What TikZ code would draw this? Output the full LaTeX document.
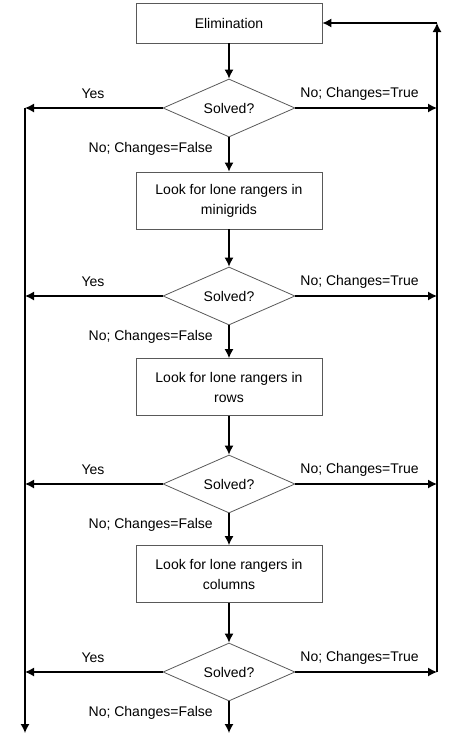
\documentclass[tikz,border=0pt]{standalone}
\usepackage{fontspec}
\setmainfont{Liberation Sans}
\usetikzlibrary{shapes.geometric, arrows.meta}

\tikzset{
  proc/.style={draw=black!65, line width=0.8pt, minimum width=186pt, minimum height=57pt,
    align=center, inner sep=0pt, font=\fontsize{14}{20}\selectfont},
  decision/.style={diamond, draw=black!65, line width=0.8pt, minimum width=132pt,
    minimum height=58pt, aspect=2.3, inner sep=0pt, font=\fontsize{14}{20}\selectfont},
  lbl/.style={inner sep=0pt, font=\fontsize{14}{17}\selectfont},
  flow/.style={line width=1.3pt, -{Latex[length=9pt,width=9pt]}}
}

\begin{document}
\begin{tikzpicture}[x=1pt, y=-1pt]
  \useasboundingbox (0,0) rectangle (456,739);

  \node[proc, minimum height=40pt] (elim) at (229,23) {Elimination};
  \node[decision] (d1) at (229,108) {Solved?};
  \node[proc] (minigrids) at (229,200.5) {Look for lone rangers in\\minigrids};
  \node[decision] (d2) at (229,296) {Solved?};
  \node[proc] (rows) at (229,387) {Look for lone rangers in\\rows};
  \node[decision] (d3) at (229,484) {Solved?};
  \node[proc] (columns) at (229,574) {Look for lone rangers in\\columns};
  \node[decision] (d4) at (229,672) {Solved?};

  \coordinate (top) at (437,23);
  \coordinate (out) at (25,733);
  \coordinate (done) at (229,733);

  % main column
  \draw[flow] (elim) -- (d1);
  \draw[flow] (d1) -- (minigrids);
  \draw[flow] (minigrids) -- (d2);
  \draw[flow] (d2) -- (rows);
  \draw[flow] (rows) -- (d3);
  \draw[flow] (d3) -- (columns);
  \draw[flow] (columns) -- (d4);
  \draw[flow] (d4) -- (done);

  % branches of each test
  \foreach \d/\y in {d1/108, d2/296, d3/484, d4/672} {
    \coordinate (l\d) at (25,\y);
    \coordinate (r\d) at (437,\y);
    \draw[flow] (\d.west) -- (l\d);
    \draw[flow] (\d.east) -- (r\d);
    \node[lbl] (yes\d) at (93,\y-14) {Yes};
    \node[lbl] (true\d) at (359.5,\y-14) {No; Changes=True};
    \node[lbl, anchor=east] (false\d) at (213,\y+41) {No; Changes=False};
  }

  \draw[flow] (ld1) -- (out);
  \draw[flow] (rd4) -- (top);
  \draw[flow] (top) -- (elim);
\end{tikzpicture}
\end{document}
